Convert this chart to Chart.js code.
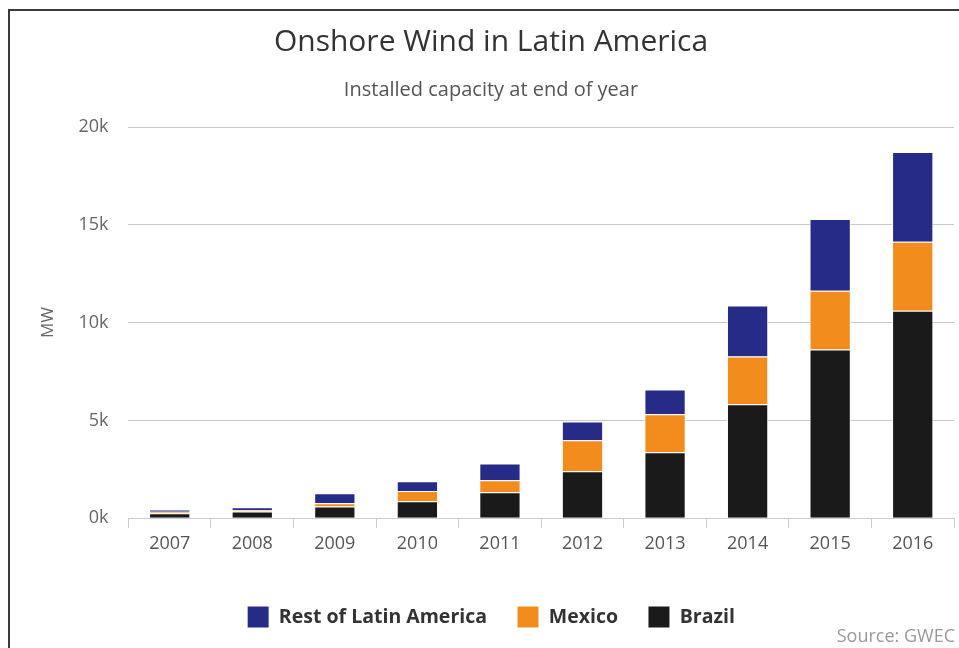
<!DOCTYPE html>
<html>
<head>
<meta charset="utf-8">
<script src="https://cdn.jsdelivr.net/npm/chart.js@4/dist/chart.umd.min.js"></script>
<style>
  html, body { margin: 0; padding: 0; background: #fff; }
  #wrap { position: relative; width: 959px; height: 648px; }
  #frame { position: absolute; left: 8px; top: 9px; right: -4px; bottom: -4px;
           border-left: 2px solid #3a3a3a; border-top: 2px solid #3a3a3a; }
  canvas { position: absolute; left: 0; top: 0; }
</style>
</head>
<body>
<div id="wrap">
  <canvas id="chart" width="959" height="648"></canvas>
  <div id="frame"></div>
</div>
<script>
var years = ["2007", "2008", "2009", "2010", "2011", "2012", "2013", "2014", "2015", "2016"];
var brazil = [250, 340, 600, 870, 1330, 2400, 3370, 5820, 8620, 10610];
var mexico = [85, 85, 170, 520, 610, 1580, 1940, 2450, 3010, 3520];
var restOfLatAm = [115, 135, 510, 500, 860, 970, 1270, 2600, 3670, 4590];

var sourcePlugin = {
    id: 'sourceText',
    afterDraw: function(chart) {
        var ctx = chart.ctx;
        ctx.save();
        ctx.font = '18px "Open Sans"';
        ctx.fillStyle = '#999';
        ctx.textAlign = 'right';
        ctx.textBaseline = 'middle';
        ctx.fillText('Source: GWEC', 955, 637);
        ctx.restore();
    }
};

var config = {
    type: 'bar',
    data: {
        labels: years,
        datasets: [{
            label: 'Brazil',
            data: brazil,
            backgroundColor: '#1a1a1a',
            borderColor: '#ffffff',
            borderWidth: 1
        }, {
            label: 'Mexico',
            data: mexico,
            backgroundColor: '#f28c1c',
            borderColor: '#ffffff',
            borderWidth: 1
        }, {
            label: 'Rest of Latin America',
            data: restOfLatAm,
            backgroundColor: '#252b86',
            borderColor: '#ffffff',
            borderWidth: 1
        }]
    },
    options: {
        responsive: false,
        animation: false,
        categoryPercentage: 1,
        barPercentage: 0.5,
        layout: { padding: { left: 28, right: 5, top: 8, bottom: 10 } },
        plugins: {
            title: {
                display: true,
                text: 'Onshore Wind in Latin America',
                color: '#333',
                font: { family: 'Open Sans', size: 30, weight: 'normal' },
                padding: { top: 16, bottom: 18 }
            },
            subtitle: {
                display: true,
                text: 'Installed capacity at end of year',
                color: '#555',
                font: { family: 'Open Sans', size: 20, weight: 'normal' },
                padding: { top: 0, bottom: 25 }
            },
            legend: {
                position: 'bottom',
                reverse: true,
                title: { display: true, text: ' ', font: { size: 1 }, padding: { top: 15, bottom: 0 } },
                labels: {
                    boxWidth: 22,
                    boxHeight: 22,
                    padding: 30,
                    color: '#333',
                    font: { family: 'Open Sans', size: 19.5, weight: 'bold' }
                }
            },
            tooltip: { enabled: false }
        },
        scales: {
            x: {
                stacked: true,
                grid: { display: true, drawOnChartArea: false, tickLength: 10, color: '#ccc' },
                border: { display: true, color: '#ccc' },
                ticks: { color: '#555', padding: 5, font: { family: 'Open Sans', size: 18 } }
            },
            y: {
                stacked: true,
                min: 0,
                max: 20000,
                title: {
                    display: true,
                    text: 'MW',
                    color: '#666',
                    font: { family: 'Open Sans', size: 17 },
                    padding: { top: 10, bottom: 0 }
                },
                grid: { color: '#c8c8c8', drawTicks: false },
                border: { display: false },
                ticks: {
                    stepSize: 5000,
                    padding: 20,
                    color: '#666',
                    font: { family: 'Open Sans', size: 18 },
                    callback: function(v) { return (v / 1000) + 'k'; }
                }
            }
        }
    },
    plugins: [sourcePlugin]
};

var ctx = document.getElementById('chart');
window.myChart = new Chart(ctx, config);
</script>
</body>
</html>
